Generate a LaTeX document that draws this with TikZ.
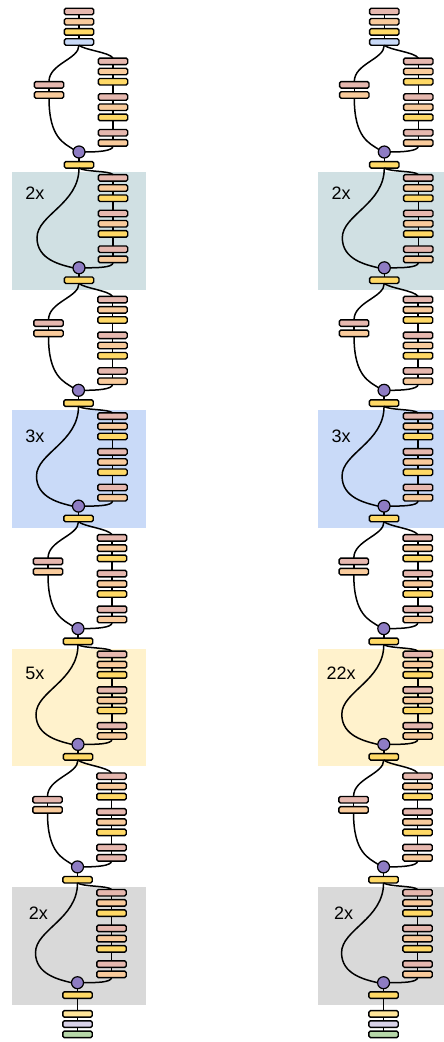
\documentclass[tikz,border=0pt]{standalone}
\usepackage{fontspec}
\setmainfont{Liberation Sans}
\definecolor{cpink}{HTML}{E6B8AF}
\definecolor{corange}{HTML}{F9CB9C}
\definecolor{cyellow}{HTML}{FFD966}
\definecolor{cblue}{HTML}{C9DAF8}
\definecolor{cpurple}{HTML}{8E7CC3}
\definecolor{clyellow}{HTML}{FFE599}
\definecolor{clav}{HTML}{D9D2E9}
\definecolor{cgreen}{HTML}{B6D7A8}
\definecolor{bgA}{HTML}{D0E0E3}
\definecolor{bgB}{HTML}{C9DAF8}
\definecolor{bgC}{HTML}{FFF2CC}
\definecolor{bgD}{HTML}{D9D9D9}
\begin{document}
\begin{tikzpicture}[x=1pt,y=-1pt,
  blk/.style={draw=black,line width=1.4pt,rounded corners=1.5pt,minimum width=29.4pt,minimum height=6.5pt,inner sep=0pt,outer sep=0pt},
  add/.style={draw=black,line width=1.2pt,circle,fill=cpurple,minimum size=12pt,inner sep=0pt,outer sep=0pt},
  con/.style={draw=black,line width=1.5pt},
  lbl/.style={font=\fontsize{18}{20}\selectfont,inner sep=0pt,anchor=base}]
\useasboundingbox (0,0) rectangle (444,1042);
\clip (0,0) rectangle (444,1042);
% backgrounds
\foreach \c/\xo in {0/0,1/305.3}{
  \foreach \k/\bgc in {1/bgA,2/bgB,3/bgC,4/bgD}{
    \pgfmathsetmacro\Yb{42+(\k-1)*238.3+122.8}
    \fill[\bgc] (12.3+\xo,\Yb+7.2) rectangle (146+\xo,\Yb+124.8);
  }
}
% labels
\foreach \c/\k/\txt/\lx/\ly in {0/1/2x/22.5/27.3,0/2/3x/22.5/32,0/3/5x/22.5/31.3,0/4/2x/26/32.7,1/1/2x/23.5/27.3,1/2/3x/23.5/32,1/3/22x/23.5/31.3,1/4/2x/26/32.7}{
  \pgfmathsetmacro\xo{305.3*\c}
  \pgfmathsetmacro\Yb{42+(\k-1)*238.3+130}
  \node[lbl] (lab-\c-\k) at (12.3+\xo+\lx,\Yb+\ly) {\txt};
}
% columns
\foreach \c/\xo/\dr in {0/79/0.5,1/384.3/0.25}{
  \node[blk,fill=cpink] (ta-\c) at (\xo,11.5) {};
  \node[blk,fill=corange] (tb-\c) at (\xo,21.7) {};
  \node[blk,fill=cyellow] (tc-\c) at (\xo,31.9) {};
  \node[blk,fill=cblue] (in-\c-1) at (\xo,42) {};
  \draw[con] (ta-\c.south)--(tb-\c.north) (tb-\c.south)--(tc-\c.north) (tc-\c.south)--(in-\c-1.north);
  \foreach \k in {1,2,3,4}{
    \pgfmathsetmacro\cx{\xo-\dr*(\k-1)}
    \pgfmathsetmacro\Yp{42+(\k-1)*238.3}
    \pgfmathsetmacro\Yi{\Yp+122.8}
    \pgfmathtruncatemacro\nk{\k+1}
    \def\lastcol{corange}
    \ifnum\c=0 \ifnum\k=4 \def\lastcol{cpink}\fi\fi
    % projection block
    \foreach \i/\dy/\col in {1/19.3/cpink,2/29.5/corange,3/39.7/cyellow,4/55/cpink,5/65.2/corange,6/75.4/cyellow,7/90.7/cpink,8/100.9/\lastcol}{
      \node[blk,fill=\col] (pr\i-\c-\k) at (\cx+34,\Yp+\dy) {};
    }
    \foreach \i in {1,...,7}{
      \pgfmathtruncatemacro\j{\i+1}
      \draw[con] (pr\i-\c-\k.south)--(pr\j-\c-\k.north);
    }
    \node[blk,fill=cpink] (pl1-\c-\k) at (\cx-30,\Yp+42.8) {};
    \node[blk,fill=corange] (pl2-\c-\k) at (\cx-30,\Yp+53) {};
    \node[add] (pa-\c-\k) at (\cx,\Yp+110) {};
    \node[blk,fill=cyellow] (mid-\c-\k) at (\cx,\Yp+122.8) {};
    \draw[con] (in-\c-\k.south) .. controls +(6,5) and +(-4,-6) .. (pr1-\c-\k.north);
    \draw[con] (in-\c-\k.south) .. controls +(0,14) and +(0,-18) .. (pl1-\c-\k.north);
    \draw[con] (pl1-\c-\k.south) -- (pl2-\c-\k.north);
    \draw[con] (pl2-\c-\k.south) .. controls +(0,40) and +(-9,-6) .. (pa-\c-\k.155);
    \draw[con] (pr8-\c-\k.south) .. controls +(0,5) and +(12,0) .. (pa-\c-\k.east);
    \draw[con] (pa-\c-\k.south) -- (mid-\c-\k.north);
    % identity block
    \foreach \i/\dy/\col in {1/13/cpink,2/23.2/corange,3/33.4/cyellow,4/48.7/cpink,5/58.9/corange,6/69.1/cyellow,7/84.4/cpink,8/94.6/corange}{
      \node[blk,fill=\col] (ir\i-\c-\k) at (\cx+34,\Yi+\dy) {};
    }
    \foreach \i in {1,...,7}{
      \pgfmathtruncatemacro\j{\i+1}
      \draw[con] (ir\i-\c-\k.south)--(ir\j-\c-\k.north);
    }
    \node[add] (ia-\c-\k) at (\cx,\Yi+103) {};
    \node[blk,fill=cyellow] (in-\c-\nk) at (\cx,\Yi+115.4) {};
    \draw[con] (mid-\c-\k.south) .. controls +(6,4) and +(-4,-4) .. (ir1-\c-\k.north);
    \draw[con] (mid-\c-\k.south) .. controls +(0,36) and +(0,-23) .. (\cx-42,\Yi+73) .. controls +(0,22) and +(-12,-3) .. (ia-\c-\k.west);
    \draw[con] (ir8-\c-\k.south) .. controls +(0,5) and +(12,0) .. (ia-\c-\k.east);
    \draw[con] (ia-\c-\k.south) -- (in-\c-\nk.north);
  }
  \pgfmathsetmacro\cx{\xo-\dr*3}
  \node[blk,fill=clyellow] (fa-\c) at (\cx,1013.9) {};
  \node[blk,fill=clav] (fb-\c) at (\cx,1024.1) {};
  \node[blk,fill=cgreen] (fc-\c) at (\cx,1034.3) {};
  \draw[con] (in-\c-5.south)--(fa-\c.north) (fa-\c.south)--(fb-\c.north) (fb-\c.south)--(fc-\c.north);
}
\end{tikzpicture}
\end{document}
